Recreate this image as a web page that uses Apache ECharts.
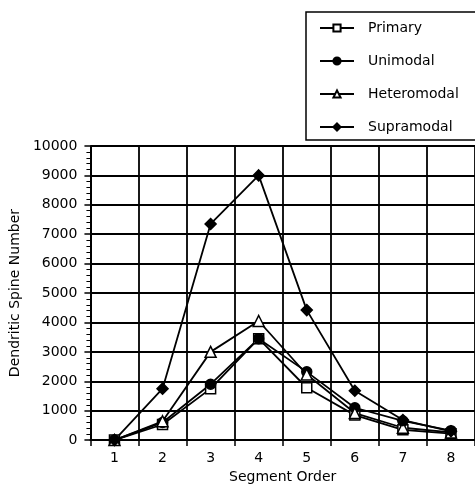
<!DOCTYPE html>
<html>
<head>
<meta charset="utf-8">
<script src="https://cdn.jsdelivr.net/npm/echarts@6/dist/echarts.min.js"></script>
<style>
html,body{margin:0;padding:0;background:#fff;}
#chart{width:475px;height:489px;}
</style>
</head>
<body>
<div id="chart"></div>
<script>
var categories = ['1', '2', '3', '4', '5', '6', '7', '8'];
var primary = [0, 530, 1750, 3450, 1780, 850, 350, 220];
var unimodal = [0, 600, 1900, 3450, 2320, 1100, 650, 320];
var heteromodal = [0, 640, 3000, 4050, 2230, 920, 420, 260];
var supramodal = [0, 1750, 7350, 9000, 4420, 1680, 680, 300];
var seriesNames = ['Primary', 'Unimodal', 'Heteromodal', 'Supramodal'];
var yTicks = { min: 0, max: 10000, interval: 1000 };

var FONT = 'DejaVu Sans';
var chart = echarts.init(document.getElementById('chart'), null, { renderer: 'canvas' });

function mkSeries(name, data, symbol, size, filled) {
  return {
    name: name,
    type: 'line',
    data: data,
    symbol: symbol,
    symbolSize: size,
    showAllSymbol: true,
    lineStyle: { color: '#000', width: 1.8 },
    itemStyle: { color: filled ? '#000' : '#fff', borderColor: '#000', borderWidth: 1.5 },
    emphasis: { disabled: true },
    animation: false,
    z: 3
  };
}

chart.setOption({
  backgroundColor: '#fff',
  animation: false,
  textStyle: { fontFamily: FONT, color: '#000' },
  grid: { left: 84, right: -2, top: 146, bottom: 45, containLabel: false },
  legend: {
    orient: 'vertical',
    left: 306,
    top: 12,
    padding: [9, 30, 6, 13],
    itemWidth: 34,
    itemHeight: 9,
    itemGap: 19,
    borderColor: '#000',
    borderWidth: 1.5,
    backgroundColor: '#fff',
    textStyle: { fontFamily: FONT, fontSize: 14, color: '#000', padding: [0, 0, 0, 9], lineHeight: 14 },
    data: seriesNames
  },
  xAxis: {
    type: 'category',
    data: categories,
    boundaryGap: true,
    name: 'Segment Order',
    nameLocation: 'middle',
    nameGap: 26,
    nameTextStyle: { fontFamily: FONT, fontSize: 14, color: '#000' },
    axisLine: { lineStyle: { color: '#000', width: 2 } },
    axisTick: { show: true, length: 6, lineStyle: { color: '#000', width: 1.5 } },
    axisLabel: { fontFamily: FONT, fontSize: 14, color: '#000', margin: 11 },
    splitLine: { show: true, lineStyle: { color: '#000', width: 1.8 } }
  },
  yAxis: {
    type: 'value',
    min: yTicks.min,
    max: yTicks.max,
    interval: yTicks.interval,
    name: 'Dendritic Spine Number',
    nameLocation: 'middle',
    nameGap: 58,
    nameTextStyle: { fontFamily: FONT, fontSize: 14, color: '#000' },
    axisLine: { show: true, lineStyle: { color: '#000', width: 2 } },
    axisTick: { show: true, length: 6, lineStyle: { color: '#000', width: 1.5 } },
    minorTick: { show: true, splitNumber: 5, length: 4, lineStyle: { color: '#000', width: 1 } },
    axisLabel: {
      fontFamily: FONT, fontSize: 14, color: '#000', margin: 13,
      formatter: function (v) { return String(v); }
    },
    splitLine: { show: true, lineStyle: { color: '#000', width: 1.8 } }
  },
  series: [
    mkSeries(seriesNames[0], primary, 'rect', 10, false),
    mkSeries(seriesNames[1], unimodal, 'circle', 10, true),
    mkSeries(seriesNames[2], heteromodal, 'triangle', 11, false),
    mkSeries(seriesNames[3], supramodal, 'diamond', 11, true)
  ]
});
</script>
</body>
</html>
